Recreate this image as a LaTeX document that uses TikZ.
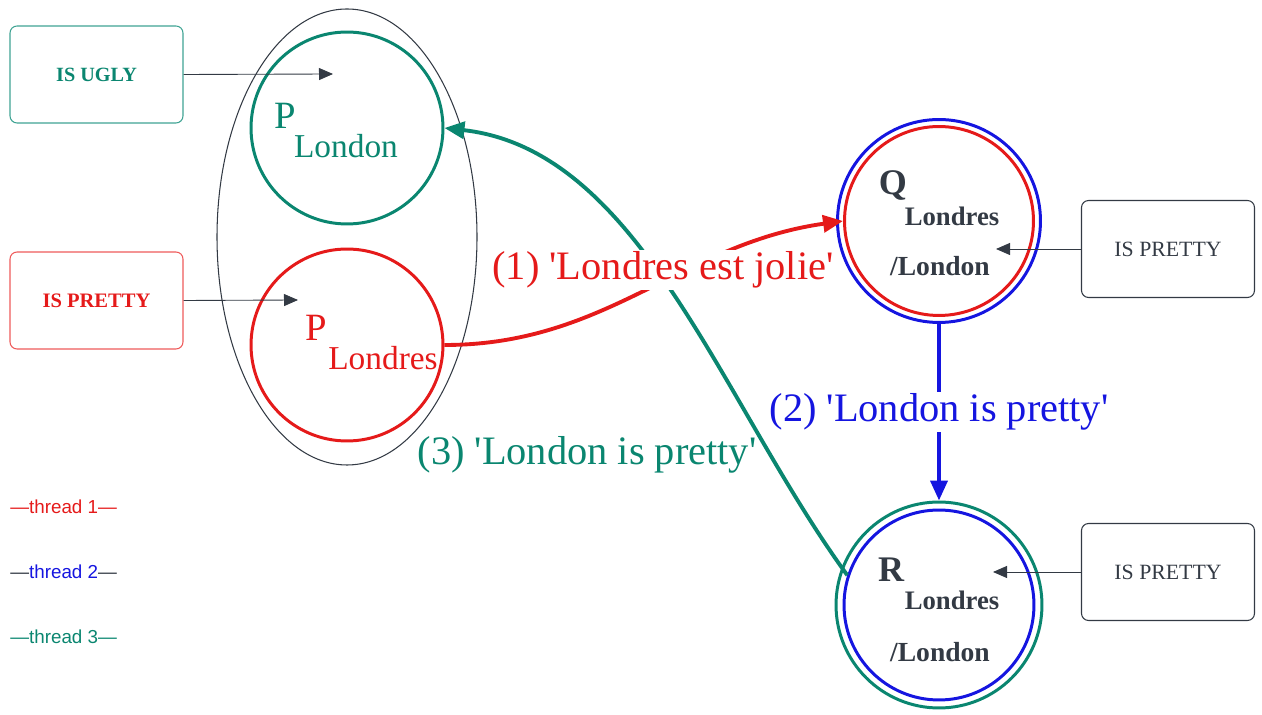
\documentclass[tikz,border=0pt]{standalone}
\usepackage{fontspec}
\setmainfont{Liberation Serif}
\setsansfont{Liberation Sans}
\usetikzlibrary{arrows.meta}
\definecolor{ThreadRed}{HTML}{E51A1A}
\definecolor{ThreadBlue}{HTML}{1515E0}
\definecolor{ThreadTeal}{HTML}{0A8670}
\definecolor{NoteInk}{HTML}{333A44}
\definecolor{TealEdge}{HTML}{3FA393}
\definecolor{RedEdge}{HTML}{EE5A5A}
\newcommand{\sq}{\textquotesingle}
\tikzset{
  every node/.style={text=NoteInk},
  ring/.style={circle, line width=1.7pt, inner sep=0pt},
  tag/.style={rectangle, rounded corners=4pt, line width=0.6pt, minimum width=3.46cm, minimum height=1.94cm},
  pointer/.style={-{Triangle[length=2.8mm,width=2.4mm]}, draw=NoteInk, line width=0.5pt},
  flow/.style={-{Triangle[length=4mm,width=3.4mm]}, line width=2.2pt},
  says/.style={font=\fontsize{23}{26}\selectfont, fill=white, inner sep=1pt},
  bigletter/.style={font=\fontsize{22}{24}\selectfont},
  sublabel/.style={font=\fontsize{19}{21}\selectfont},
  key/.style={font=\sffamily\fontsize{10.7}{12}\selectfont, anchor=west, inner sep=0pt},
}

\begin{document}
\begin{tikzpicture}[x=0.02cm,y=-0.02cm]
  \useasboundingbox (0,0) rectangle (1262,715);

  % Left group: the two P nodes inside one ellipse
  \draw[NoteInk, line width=0.6pt] (347,237) ellipse [x radius=130, y radius=228];
  \node[ring, draw=ThreadTeal, minimum size=3.84cm] (pl) at (347,128) {};
  \node[bigletter, text=ThreadTeal] (plp) at (285,116) {P};
  \node[sublabel, text=ThreadTeal] (pls) at (346,146) {London};
  \node[ring, draw=ThreadRed, minimum size=3.84cm] (plondres) at (347,345) {};
  \node[bigletter, text=ThreadRed] (plondresp) at (316,328) {P};
  \node[sublabel, text=ThreadRed] (plondress) at (383,358) {Londres};

  % Left tags
  \node[tag, draw=TealEdge, text=ThreadTeal, font=\bfseries\fontsize{11.5}{13}\selectfont] (ugly) at (96.5,74.5) {IS UGLY};
  \node[tag, draw=RedEdge, text=ThreadRed, font=\bfseries\fontsize{11.7}{13}\selectfont] (prettyl) at (96.5,300.5) {IS PRETTY};
  \coordinate (uglytip) at (333,74);
  \coordinate (prettyltip) at (298,300);
  \draw[pointer] (ugly.east) -- (uglytip);
  \draw[pointer] (prettyl.east) -- (prettyltip);

  % Q node, double ring
  \node[ring, draw=ThreadRed, minimum size=3.78cm] (q) at (939,221) {};
  \node[ring, draw=ThreadBlue, minimum size=4.06cm] (qo) at (939,221) {};
  \node[font=\bfseries\fontsize{20.5}{22}\selectfont] (qq) at (893,186) {Q};
  \node[font=\bfseries\fontsize{15.2}{17}\selectfont] (qs) at (952,216) {Londres};
  \node[font=\bfseries\fontsize{15.7}{17}\selectfont] (qt) at (940,266) {/London};

  % R node, double ring
  \node[ring, draw=ThreadBlue, minimum size=3.8cm] (r) at (939,605) {};
  \node[ring, draw=ThreadTeal, minimum size=4.12cm] (ro) at (939,605) {};
  \node[font=\bfseries\fontsize{20.5}{22}\selectfont] (rr) at (891,570) {R};
  \node[font=\bfseries\fontsize{15.2}{17}\selectfont] (rs) at (952,600) {Londres};
  \node[font=\bfseries\fontsize{15.7}{17}\selectfont] (rt) at (940,652) {/London};

  % Right tags
  \node[tag, draw=NoteInk, font=\fontsize{12.4}{14}\selectfont] (prettyq) at (1168,249) {IS PRETTY};
  \node[tag, draw=NoteInk, font=\fontsize{12.4}{14}\selectfont] (prettyr) at (1168,572) {IS PRETTY};
  \coordinate (prettyqtip) at (996,249);
  \coordinate (prettyrtip) at (993,572);
  \draw[pointer] (prettyq.west) -- (prettyqtip);
  \draw[pointer] (prettyr.west) -- (prettyrtip);

  % Message flows
  \draw[flow, draw=ThreadRed] (plondres.east) to[out=0, in=188] (q.west);
  \draw[flow, draw=ThreadBlue] (qo.south) -- (ro.north);
  \draw[flow, draw=ThreadTeal] (r.162) .. controls (720,400) and (640,150) .. (pl.east);

  % Flow labels
  \node[says, text=ThreadRed] (saysone) at (663,270) {(1) \sq Londres est jolie\sq};
  \node[says, text=ThreadBlue] (saystwo) at (939,412) {(2) \sq London is pretty\sq};
  \node[says, text=ThreadTeal, fill=none] (saysthree) at (587,455) {(3) \sq London is pretty\sq};

  % Legend
  \node[key, text=ThreadRed] (keyone) at (10,507) {—thread 1—};
  \node[key, text=ThreadBlue] (keytwo) at (10,572) {\textcolor{NoteInk}{—}thread 2\textcolor{NoteInk}{—}};
  \node[key, text=ThreadTeal] (keythree) at (10,637) {—thread 3—};
\end{tikzpicture}
\end{document}
